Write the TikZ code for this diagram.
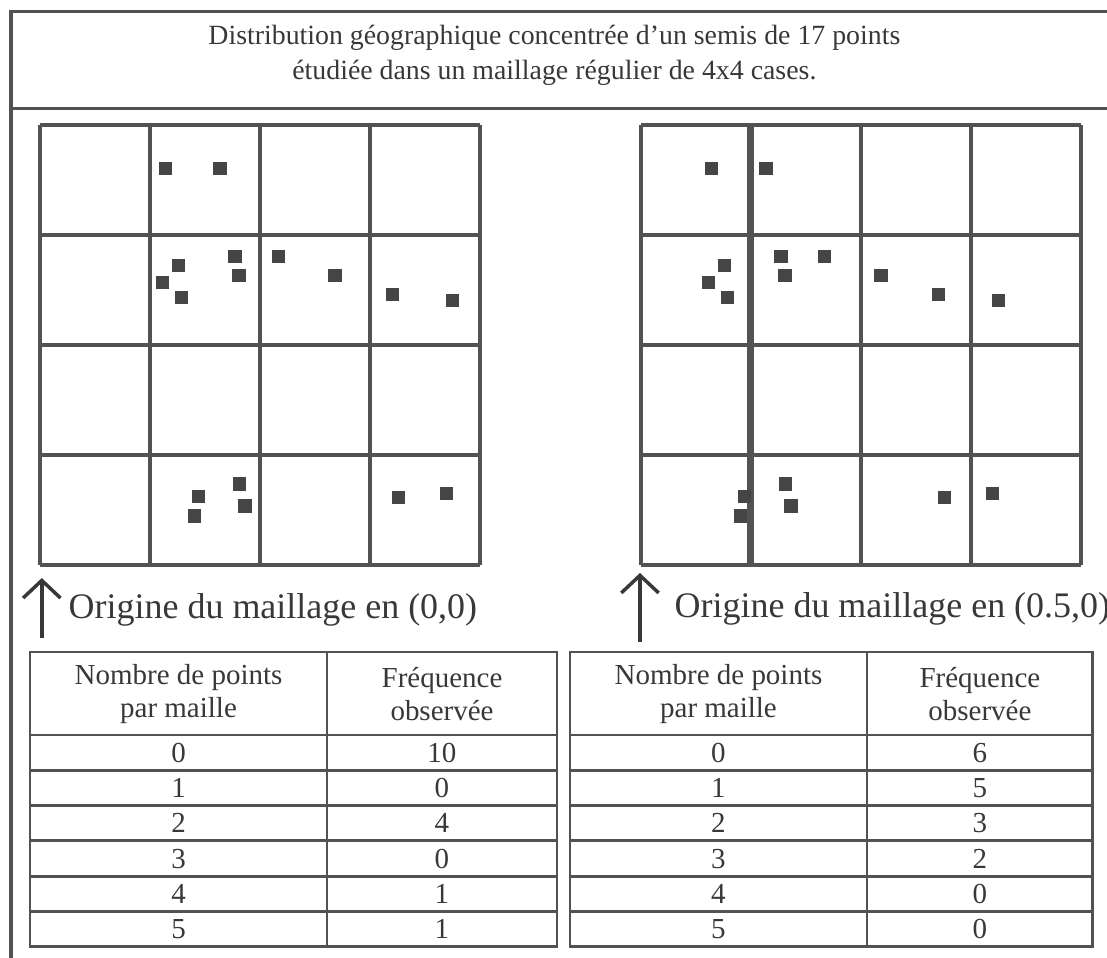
\documentclass[tikz,border=0pt]{standalone}
\usepackage{fontspec}
\setmainfont{Liberation Serif}
\usetikzlibrary{arrows.meta}
\definecolor{inkgray}{gray}{0.32}
\definecolor{txtgray}{gray}{0.22}
\definecolor{dotgray}{gray}{0.27}
\tikzset{
	frameline/.style={inkgray, line width=0.8pt},
	gridline/.style={inkgray, line width=1pt},
	tabline/.style={inkgray, line width=0.75pt},
	dotsq/.style={fill=dotgray},
	originarrow/.style={-{Straight Barb[length=1.6mm,width=3.4mm]}, txtgray, line width=0.9pt},
	titletxt/.style={txtgray, font=\fontsize{7.2pt}{9pt}\selectfont, align=center, inner sep=0pt},
	lbl/.style={txtgray, font=\fontsize{9.3pt}{11pt}\selectfont, inner sep=0pt},
	tabtxt/.style={txtgray, font=\fontsize{7.5pt}{8.6pt}\selectfont, align=center, inner sep=0pt}
}
% the 17 points, in cells, measured from the top left corner of the grid
\def\semis{1.143/0.394, 1.636/0.394, 1.257/1.279, 1.115/1.430, 1.288/1.566,
	1.773/1.197, 1.809/1.370, 2.166/1.197, 2.682/1.370, 3.203/1.539, 3.748/1.597,
	1.439/3.379, 1.403/3.555, 1.812/3.264, 1.864/3.464, 3.257/3.385, 3.697/3.348}
\begin{document}
\begin{tikzpicture}
	\useasboundingbox (0,0) rectangle (10.064,-8.709);
	\clip (0,0) rectangle (10.064,-8.709);
	% Frame and title
	\draw[frameline] (10.4,-0.106) -- (0.1,-0.106) -- (0.1,-9);
	\draw[frameline] (0.1,-0.985) -- (10.4,-0.985);
	\node[titletxt] (titre) at (5.04,-0.5) {Distribution géographique concentrée d'un semis de 17 points\\étudiée dans un maillage régulier de 4x4 cases.};
	
	% Grid, origin in (0,0)
	\begin{scope}[shift={(0.364,-1.136)}]
		\draw[gridline] (0,0) grid (4,-4);
		\foreach \px/\py in \semis
			\fill[dotsq] (\px-0.06,-\py-0.06) rectangle ++(0.12,0.12);
	\end{scope}
	
	% Grid, origin in (0.5,0)
	\begin{scope}[shift={(5.827,-1.136)}]
		\draw[gridline] (0,0) grid (4,-4);
		\draw[gridline, line width=1.8pt] (1,0) -- (1,-4);
		\foreach \px/\py in \semis
			\fill[dotsq] (\px-0.56,-\py-0.06) rectangle ++(0.12,0.12);
	\end{scope}
	
	% Origins
	\coordinate (oA) at (0.38,-5.80);
	\coordinate (tA) at (0.38,-5.255);
	\draw[originarrow] (oA) -- (tA);
	\node[lbl, anchor=base west] (labA) at (0.618,-5.627) {Origine du maillage en (0,0)};
	\coordinate (oB) at (5.818,-5.836);
	\coordinate (tB) at (5.818,-5.209);
	\draw[originarrow] (oB) -- (tB);
	\node[lbl, anchor=base west] (labB) at (6.127,-5.61) {Origine du maillage en (0.5,0)};
	
	% Tables
	\foreach \x/\s/\e/\t in {0.273/2.973/5.064/A, 5.182/7.882/9.936/B} {
		\draw[tabline] (\x,-5.927) rectangle (\e,-8.608);
		\draw[tabline] (\s,-5.927) -- (\s,-8.608);
		\foreach \k in {0,...,5}
			\draw[tabline] (\x,-6.682-\k*0.321) -- (\e,-6.682-\k*0.321);
		\node[tabtxt] (nb\t) at ({(\x+\s)/2},-6.31) {Nombre de points\\par maille};
		\node[tabtxt] (fq\t) at ({(\s+\e)/2},-6.31) {Fréquence\\observée};
	}
	\foreach \n/\a/\b [count=\k] in {0/10/6, 1/0/5, 2/4/3, 3/0/2, 4/1/0, 5/1/0} {
		\node[tabtxt] (nA\k) at (1.623,-6.5215-\k*0.321) {\n};
		\node[tabtxt] (fA\k) at (4.018,-6.5215-\k*0.321) {\a};
		\node[tabtxt] (nB\k) at (6.532,-6.5215-\k*0.321) {\n};
		\node[tabtxt] (fB\k) at (8.909,-6.5215-\k*0.321) {\b};
	}
\end{tikzpicture}
\end{document}
